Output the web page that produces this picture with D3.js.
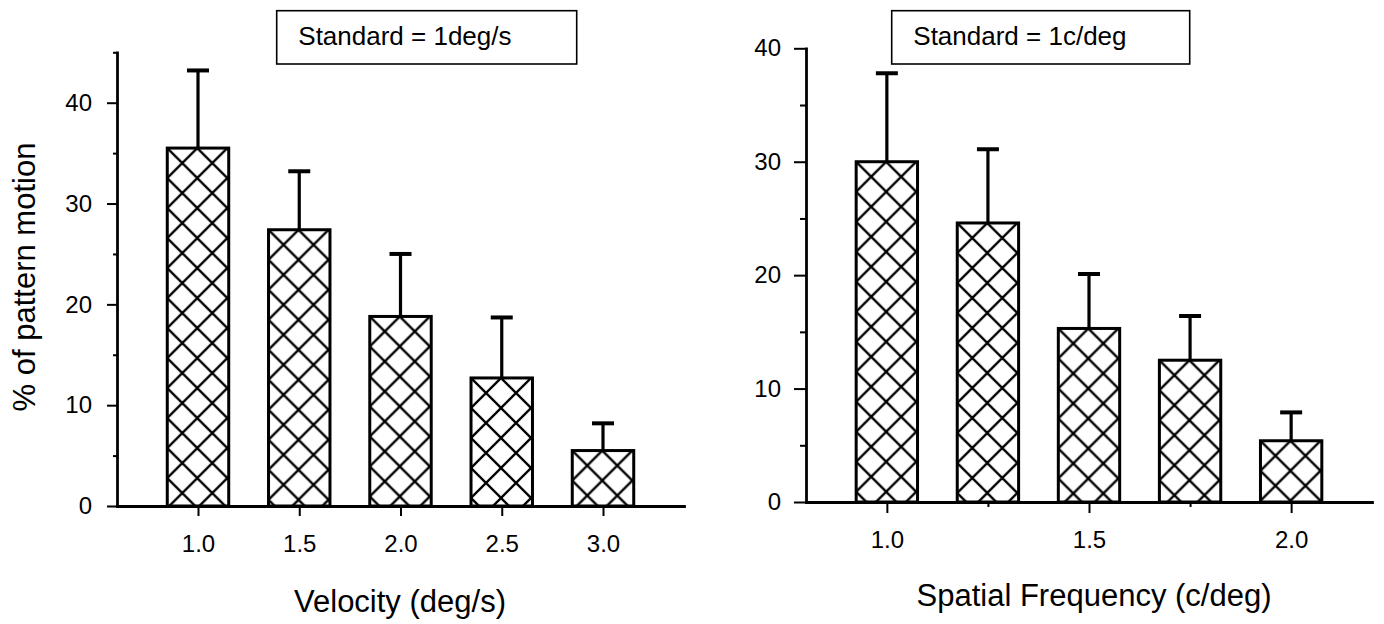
<!DOCTYPE html>
<html>
<head>
<meta charset="utf-8">
<script src="https://cdn.jsdelivr.net/npm/d3@7"></script>
<style>
  html, body { margin: 0; padding: 0; background: #fff; }
  svg { display: block; }
  text { font-family: "Liberation Sans", Arial, Helvetica, sans-serif; fill: #000; }
</style>
</head>
<body>
<svg id="chart" width="1384" height="624"></svg>
<script>
// ---------- data ----------
const leftCats   = [1.0, 1.5, 2.0, 2.5, 3.0];
const leftMeans  = [35.5, 27.4, 18.8, 12.7, 5.5];
const leftErrs   = [7.7, 5.8, 6.2, 6.0, 2.7];

const rightCats  = [1.0, 1.25, 1.5, 1.75, 2.0];
const rightMeans = [30.0, 24.6, 15.3, 12.5, 5.4];
const rightErrs  = [7.8, 6.5, 4.8, 3.9, 2.5];

const leftYTicks  = [0, 10, 20, 30, 40];
const leftYMinor  = [5, 15, 25, 35, 45];
const rightYTicks = [0, 10, 20, 30, 40];
const rightYMinor = [5, 15, 25, 35];
const leftXTicks  = [1.0, 1.5, 2.0, 2.5, 3.0];
const leftXMinor  = [];
const rightXTicks = [1.0, 1.5, 2.0];
const rightXMinor = [1.25, 1.75];

const legendLabels = ["Standard = 1deg/s", "Standard = 1c/deg"];
const xTitles = ["Velocity (deg/s)", "Spatial Frequency (c/deg)"];
const yTitle = "% of pattern motion";

// ---------- layout ----------
const svg = d3.select("#chart");
const defs = svg.append("defs");

const panels = [
  { id: "L", cats: leftCats, means: leftMeans, errs: leftErrs,
    xDomain: [0.6, 3.4], xRange: [117, 684], yDomain: [0, 45], yRange: [506, 52.3],
    yTicks: leftYTicks, yMinor: leftYMinor, xTicks: leftXTicks, xMinor: leftXMinor,
    yTickLen: 10, yMinorLen: 4, yPad: 15, xTickLen: 10, xMinorLen: 5, xPad: 19,
    step: 0.5, legend: legendLabels[0], legendBox: [276.7, 10.7, 300, 53.3],
    xTitle: xTitles[0], xTitleX: 400, xTitleY: 611.5, yTitle: yTitle },
  { id: "R", cats: rightCats, means: rightMeans, errs: rightErrs,
    xDomain: [0.8, 2.2], xRange: [806, 1372], yDomain: [0, 40], yRange: [502, 48.3],
    yTicks: rightYTicks, yMinor: rightYMinor, xTicks: rightXTicks, xMinor: rightXMinor,
    yTickLen: 12, yMinorLen: 6, yPad: 13, xTickLen: 11, xMinorLen: 5, xPad: 18,
    step: 0.25, legend: legendLabels[1], legendBox: [891.7, 10.7, 298, 53.3],
    xTitle: xTitles[1], xTitleX: 1094, xTitleY: 606, yTitle: null }
];

const HATCH = 30;

panels.forEach(p => {
  const x = d3.scaleLinear().domain(p.xDomain).range(p.xRange);
  const y = d3.scaleLinear().domain(p.yDomain).range(p.yRange);
  const g = svg.append("g");
  const bw = 0.607 * (x(p.step) - x(0));

  const data = p.cats.map((c, i) => ({ c, m: p.means[i], e: p.errs[i], i }));

  // per-bar hatch patterns anchored at each bar's top-left corner
  data.forEach(d => {
    const pat = defs.append("pattern")
      .attr("id", `hatch${p.id}${d.i}`)
      .attr("patternUnits", "userSpaceOnUse")
      .attr("x", x(d.c) - bw / 2)
      .attr("y", y(d.m))
      .attr("width", HATCH).attr("height", HATCH);
    pat.append("rect").attr("width", HATCH).attr("height", HATCH).attr("fill", "#fff");
    const H = HATCH;
    pat.append("path")
      .attr("d", `M0,0L${H},${H}M${H},0L0,${H}` +
                 `M-3,${H-3}L3,${H+3}M${H-3},-3L${H+3},3` +
                 `M-3,3L3,-3M${H-3},${H+3}L${H+3},${H-3}`)
      .attr("stroke", "#000").attr("stroke-width", 2.3).attr("fill", "none");
  });

  // error bars (upper only)
  const eg = g.append("g").attr("stroke", "#000").attr("fill", "none");
  eg.selectAll("line.v").data(data).join("line")
    .attr("x1", d => x(d.c)).attr("x2", d => x(d.c))
    .attr("y1", d => y(d.m)).attr("y2", d => y(d.m + d.e))
    .attr("stroke-width", 3.2);
  eg.selectAll("line.cap").data(data).join("line")
    .attr("x1", d => x(d.c) - 11).attr("x2", d => x(d.c) + 11)
    .attr("y1", d => y(d.m + d.e)).attr("y2", d => y(d.m + d.e))
    .attr("stroke-width", 4);

  // bars
  g.selectAll("rect.bar").data(data).join("rect")
    .attr("class", "bar")
    .attr("x", d => x(d.c) - bw / 2)
    .attr("y", d => y(d.m))
    .attr("width", bw)
    .attr("height", d => y(0) - y(d.m))
    .attr("fill", d => `url(#hatch${p.id}${d.i})`)
    .attr("stroke", "#000").attr("stroke-width", 3);

  // y axis
  const yAx = g.append("g").attr("transform", `translate(${p.xRange[0]},0)`)
    .call(d3.axisLeft(y).tickValues(p.yTicks).tickSize(p.yTickLen).tickPadding(p.yPad).tickSizeOuter(0).tickFormat(d3.format("d")));
  const yMin = g.append("g").attr("transform", `translate(${p.xRange[0]},0)`)
    .call(d3.axisLeft(y).tickValues(p.yMinor).tickSize(p.yMinorLen).tickFormat(""));
  yMin.select(".domain").remove();

  // x axis
  const xAx = g.append("g").attr("transform", `translate(0,${p.yRange[0]})`)
    .call(d3.axisBottom(x).tickValues(p.xTicks).tickSize(p.xTickLen).tickPadding(p.xPad).tickSizeOuter(0).tickFormat(d3.format(".1f")));
  const xMin = g.append("g").attr("transform", `translate(0,${p.yRange[0]})`)
    .call(d3.axisBottom(x).tickValues(p.xMinor).tickSize(p.xMinorLen).tickFormat(""));
  xMin.select(".domain").remove();

  [yAx, yMin, xAx, xMin].forEach(a => {
    a.selectAll("path.domain").attr("stroke", "#000").attr("stroke-width", 2.8).attr("stroke-linecap", "square");
    a.selectAll(".tick line").attr("stroke", "#000").attr("stroke-width", 2);
    a.selectAll(".tick text").attr("font-size", 24).attr("fill", "#000")
      .attr("font-family", '"Liberation Sans", Arial, sans-serif');
  });

  // x title
  g.append("text").attr("x", p.xTitleX).attr("y", p.xTitleY)
    .attr("text-anchor", "middle").attr("font-size", 31).text(p.xTitle);

  // y title
  if (p.yTitle) {
    g.append("text").attr("transform", `translate(35,277) rotate(-90)`)
      .attr("text-anchor", "middle").attr("font-size", 31).text(p.yTitle);
  }

  // legend box
  const [lx, ly, lw, lh] = p.legendBox;
  g.append("rect").attr("x", lx).attr("y", ly).attr("width", lw).attr("height", lh)
    .attr("fill", "#fff").attr("stroke", "#000").attr("stroke-width", 1.6);
  g.append("text").attr("x", lx + 21.6).attr("y", ly + 34.5)
    .attr("font-size", 26).text(p.legend);
});
</script>
</body>
</html>
